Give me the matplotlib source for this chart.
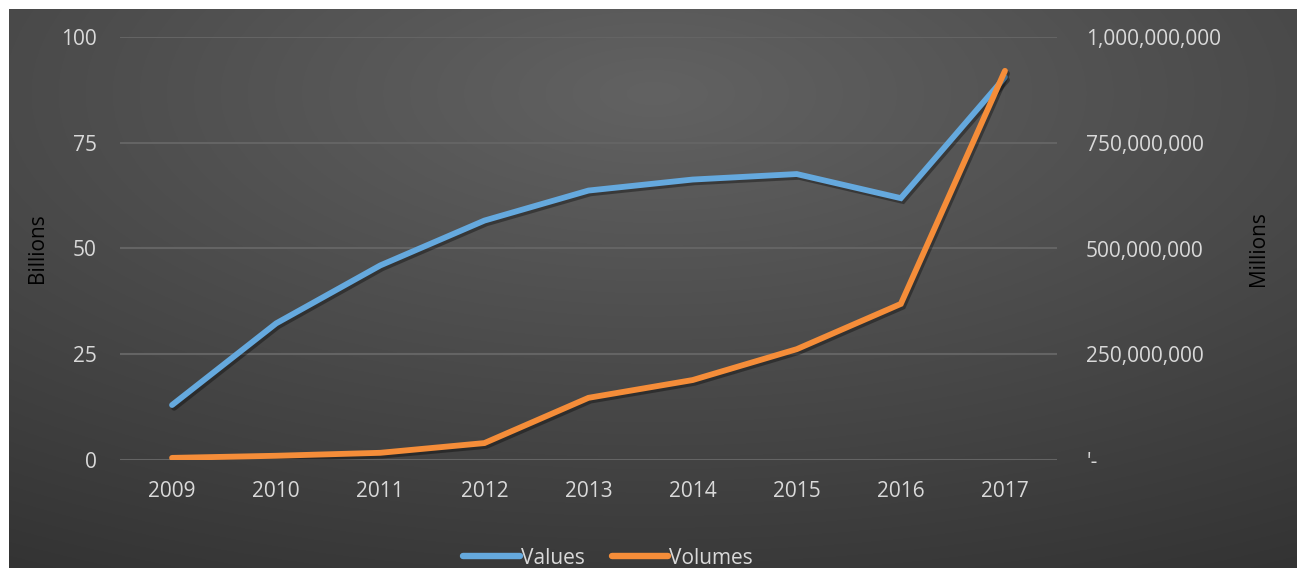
"""Values (billions) and volumes (millions) 2009-2017, dark gradient style."""

import matplotlib
matplotlib.use("Agg")
import matplotlib.pyplot as plt
import matplotlib.patheffects as pe
import numpy as np
from matplotlib.ticker import FixedLocator

years = ["2009", "2010", "2011", "2012", "2013", "2014", "2015", "2016", "2017"]
values_bn = [13.0, 32.3, 46.0, 56.6, 63.7, 66.3, 67.6, 61.9, 90.5]
volumes = [5e6, 1e7, 1.7e7, 4.0e7, 1.47e8, 1.89e8, 2.62e8, 3.69e8, 9.2e8]
left_ticks = [0, 25, 50, 75, 100]
right_ticks = [0, 2.5e8, 5e8, 7.5e8, 1e9]
right_labels = ["'-", "250,000,000", "500,000,000", "750,000,000", "1,000,000,000"]

BLUE = "#65A9DE"
ORANGE = "#F58D39"
TEXT = "#D9D9D9"
GRID = "#646464"
FONT = "Open Sans"
FS = 15

W, H = 1304, 568
PX = 72 / 100  # points per pixel at dpi 100
fig = plt.figure(figsize=(W / 100, H / 100), dpi=100, facecolor="white")

# radial gradient background (chart area leaves a thin white margin)
bg = fig.add_axes([9 / W, 0, (1297 - 9) / W, (H - 9) / H])
bg.set_axis_off()
yy, xx = np.mgrid[0:400, 0:900]
cx, cy = 450, 60
r = np.hypot((xx - cx) / 900, (yy - cy) / 400) / 1.05
r = np.clip(r, 0, 1)
c0 = np.array([0x62, 0x62, 0x62]) / 255
c1 = np.array([0x30, 0x30, 0x30]) / 255
img = c0 + (c1 - c0) * r[..., None]
bg.imshow(img, aspect="auto", extent=(0, 1, 0, 1), origin="upper")
bg.set_xlim(0, 1)
bg.set_ylim(0, 1)

ax = fig.add_axes([120 / W, (H - 460) / H, 937 / W, 423 / H])
ax.patch.set_alpha(0)
ax2 = ax.twinx()

x = np.arange(len(years))
shadow = [pe.SimpleLineShadow(offset=(1.5, -2), shadow_color="black", alpha=0.35), pe.Normal()]
l1, = ax.plot(x, values_bn, color=BLUE, lw=4.2, solid_capstyle="round",
              solid_joinstyle="miter", path_effects=shadow, zorder=3, label="Values")
l2, = ax2.plot(x, volumes, color=ORANGE, lw=4.2, solid_capstyle="round",
               solid_joinstyle="miter", path_effects=shadow, zorder=3, label="Volumes")

ax.set_xlim(-0.5, len(years) - 0.5)
ax.set_ylim(0, 100)
ax2.set_ylim(0, 1e9)
ax.set_xticks(x)
ax.set_xticklabels(years)
ax.yaxis.set_major_locator(FixedLocator(left_ticks))
ax.set_yticklabels([str(t) for t in left_ticks])
ax2.yaxis.set_major_locator(FixedLocator(right_ticks))
ax2.set_yticklabels(right_labels)

for a in (ax, ax2):
    for s in a.spines.values():
        s.set_visible(False)
ax.tick_params(axis="x", length=0, pad=21 * PX, labelsize=FS, labelcolor=TEXT)
ax.tick_params(axis="y", length=0, pad=23 * PX, labelsize=FS, labelcolor=TEXT)
ax2.tick_params(axis="y", length=0, pad=29 * PX, labelsize=FS, labelcolor=TEXT)
for lab in ax.get_xticklabels() + ax.get_yticklabels() + ax2.get_yticklabels():
    lab.set_fontfamily(FONT)

ax.grid(axis="y", color=GRID, lw=1.5, zorder=0)
ax.set_axisbelow(True)

ax.set_ylabel("Billions", fontsize=15, color="black", family=FONT)
ax.yaxis.set_label_coords((48 - 120) / 937, 0.5)
ax2.set_ylabel("Millions", fontsize=15, color="black", family=FONT, rotation=90)
ax2.yaxis.set_label_coords((1248 - 120) / 937, 0.5)

leg = fig.legend(handles=[l1, l2], loc="center", bbox_to_anchor=(608 / W, (H - 558) / H),
                 ncol=2, frameon=False, handlelength=2.7,
                 handletextpad=0.05, columnspacing=1.3, prop={"family": FONT, "size": FS})
for t in leg.get_texts():
    t.set_color(TEXT)
for h in leg.get_lines():
    h.set_path_effects([])
    h.set_linewidth(4.6)
    h.set_solid_capstyle("round")

fig.savefig("out.png", dpi=100, facecolor="white")
